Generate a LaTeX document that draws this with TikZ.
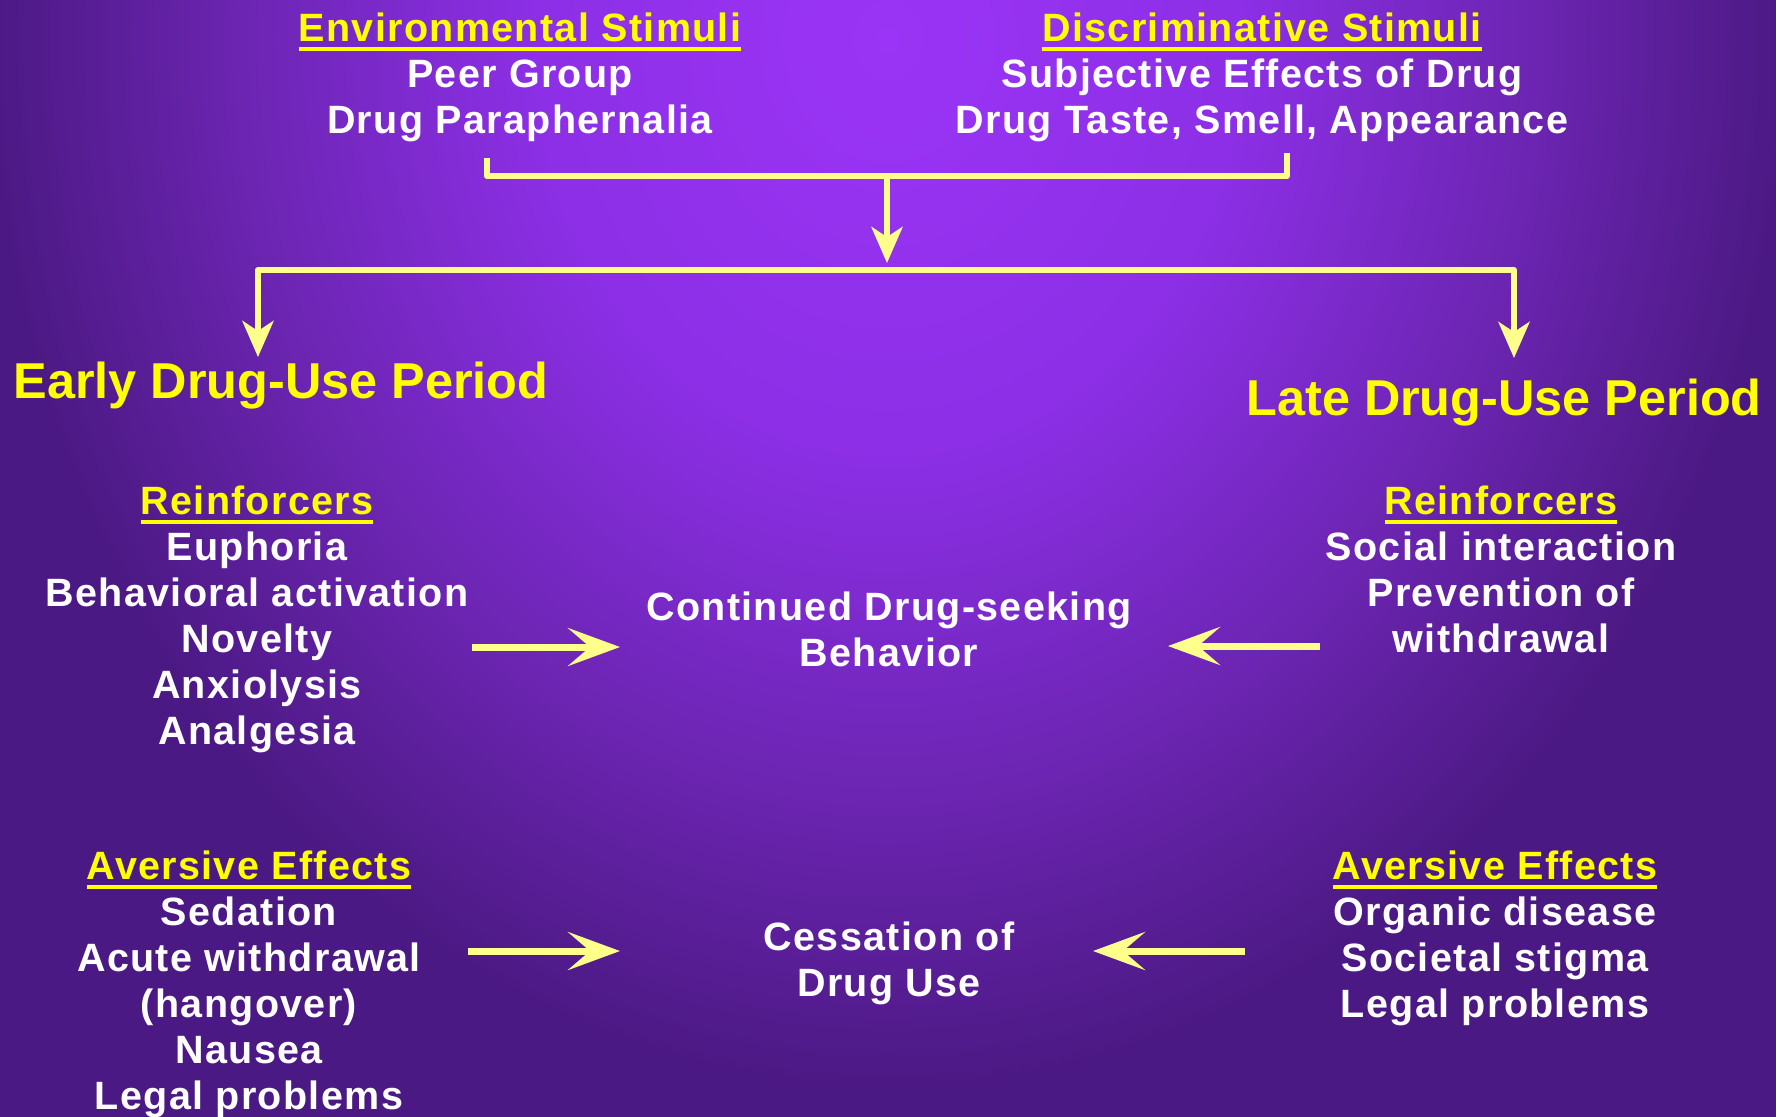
\documentclass[tikz,border=0pt]{standalone}
\usepackage{fontspec}
\newfontfamily\bodyf[LetterSpace=3.4]{Liberation Sans}
\newfontfamily\titlef{Liberation Sans}
\usetikzlibrary{arrows.meta}
\definecolor{bgtop}{HTML}{9B34F6}
\definecolor{bgmid}{HTML}{8C2FE6}
\definecolor{bglow}{HTML}{6C25B2}
\definecolor{bgdark}{HTML}{4B1983}
\definecolor{ayel}{HTML}{FFFF8C}
\definecolor{hyel}{HTML}{FFFF00}
\pgfdeclareradialshading{bgshade}{\pgfpoint{0bp}{0bp}}{color(0bp)=(bgtop); color(4.7bp)=(bgmid); color(8.6bp)=(bglow); color(12bp)=(bgdark); color(50bp)=(bgdark)}
\newsavebox\hdbox
\newcommand\hd[1]{{\color{hyel}\sbox\hdbox{#1}\rlap{\rule[-4.9pt]{\wd\hdbox}{2pt}}\usebox\hdbox}}
\tikzset{
  body/.style={font=\bodyf\bfseries\fontsize{19.75}{23}\selectfont, text=white, align=center, inner sep=0pt, anchor=base},
  period/.style={font=\titlef\bfseries\fontsize{25.2}{30}\selectfont, text=hyel, inner sep=0pt, anchor=base west},
  flow/.style={draw=ayel, line width=3pt, line join=round},
  vtip/.tip={Stealth[length=18pt,width=15.5pt,inset=5pt]},
  htip/.tip={Stealth[length=26pt,width=19pt,inset=11pt]},
  side/.style={draw=ayel, line width=3.5pt, -{htip}},
}
\begin{document}
\begin{tikzpicture}[x=0.5pt, y=-0.5pt]
\useasboundingbox (0,0) rectangle (1776,1116);
\fill[bgdark] (0,0) rectangle (1776,1116);
\begin{scope}
  \clip (0,0) rectangle (1776,1116);
  \shade[shading=bgshade] (888,40) ellipse [x radius=1875, y radius=2190];
\end{scope}

% text blocks (anchor = baseline of the last line)
\node[body] (env) at (520,133) {\hd{Environmental Stimuli}\\Peer Group\\Drug Paraphernalia};
\node[body] (disc) at (1262,133) {\hd{Discriminative Stimuli}\\Subjective Effects of Drug\\Drug Taste, Smell, Appearance};
\node[period] (early) at (13,398) {Early Drug-Use Period};
\node[period] (late) at (1246,415) {Late Drug-Use Period};
\node[body] (reinfL) at (257,744) {\hd{Reinforcers}\\Euphoria\\Behavioral activation\\Novelty\\Anxiolysis\\Analgesia};
\node[body] (reinfR) at (1501,652) {\hd{Reinforcers}\\Social interaction\\Prevention of\\withdrawal};
\node[body] (seek) at (889,666) {Continued Drug-seeking\\Behavior};
\node[body] (avL) at (249,1109) {\hd{Aversive Effects}\\Sedation\\Acute withdrawal\\(hangover)\\Nausea\\Legal problems};
\node[body] (avR) at (1495,1017) {\hd{Aversive Effects}\\Organic disease\\Societal stigma\\Legal problems};
\node[body] (stop) at (889,996) {Cessation of\\Drug Use};

% top bracket and central arrow
\coordinate (b1) at (487,158);
\coordinate (b2) at (487,176);
\coordinate (b3) at (1287,176);
\coordinate (b4) at (1287,153);
\draw[flow] (b1) -- (b2) -- (b3) -- (b4);
\coordinate (m1) at (887,176);
\coordinate (m2) at (887,263);
\draw[flow, -{vtip}] (m1) -- (m2);

% split to periods
\coordinate (s1) at (258,357);
\coordinate (s2) at (258,270);
\coordinate (s3) at (1514,270);
\coordinate (s4) at (1514,358);
\draw[flow, {vtip}-{vtip}] (s1) -- (s2) -- (s3) -- (s4);

% side arrows
\coordinate (l1a) at (472,647);
\coordinate (l1b) at (620,647);
\draw[side] (l1a) -- (l1b);
\coordinate (r1a) at (1320,646);
\coordinate (r1b) at (1168,646);
\draw[side] (r1a) -- (r1b);
\coordinate (l2a) at (468,951);
\coordinate (l2b) at (620,951);
\draw[side] (l2a) -- (l2b);
\coordinate (r2a) at (1245,951);
\coordinate (r2b) at (1093,951);
\draw[side] (r2a) -- (r2b);
\end{tikzpicture}
\end{document}
